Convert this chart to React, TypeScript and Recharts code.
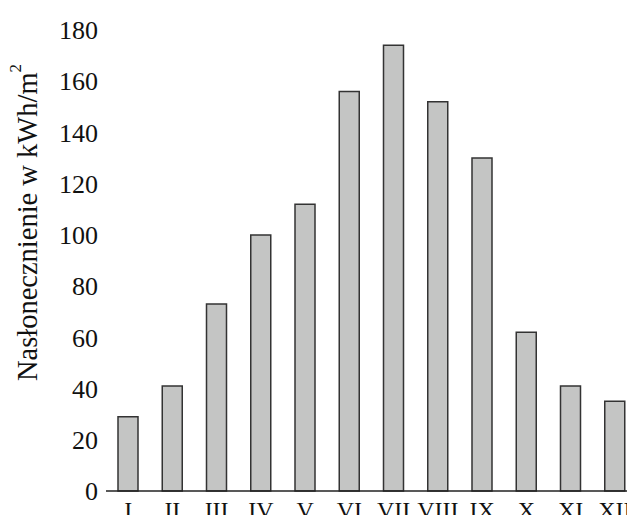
import React from "react";
import { BarChart, Bar, XAxis, YAxis } from "recharts";

const months = ["I", "II", "III", "IV", "V", "VI", "VII", "VIII", "IX", "X", "XI", "XII"];
const insolation = [29, 41, 73, 100, 112, 156, 174, 152, 130, 62, 41, 35];
const yTicks = [0, 20, 40, 60, 80, 100, 120, 140, 160, 180];

const data = months.map((m, i) => ({ month: m, value: insolation[i] }));

const FONT = '"Liberation Serif", "Times New Roman", serif';

function MonthTick({ x, y, payload }: any) {
  return (
    <text x={x} y={y} dy={25} textAnchor="middle" fontFamily={FONT} fontSize={24} fill="#111">
      {payload.value}
    </text>
  );
}

function YLabel({ viewBox }: any) {
  const cx = viewBox.x + 27;
  const cy = viewBox.y + viewBox.height / 2 - 38;
  return (
    <text
      x={cx}
      y={cy}
      transform={`rotate(-90, ${cx}, ${cy})`}
      textAnchor="middle"
      dominantBaseline="central"
      fontFamily={FONT}
      fontSize={28.5}
      fill="#111"
    >
      Nasłonecznienie w kWh/m
      <tspan dy={-12} fontSize={17}>2</tspan>
    </text>
  );
}

export default function App() {
  return (
    <div style={{ margin: -8, width: 635, height: 523, overflow: "hidden", background: "#fff" }}>
      <BarChart width={637} height={523} data={data} margin={{ top: 30, right: 0, bottom: 0, left: 0 }}>
        <XAxis
          dataKey="month"
          tick={<MonthTick />}
          tickLine={false}
          tickSize={0}
          height={32}
          interval={0}
          axisLine={{ stroke: "#222", strokeWidth: 1.5 }}
        />
        <YAxis
          domain={[0, 180]}
          ticks={yTicks}
          width={106}
          tickLine={false}
          tickSize={0}
          tickMargin={8}
          axisLine={false}
          tick={{ fontFamily: FONT, fontSize: 26, fill: "#111" }}
          label={{ content: <YLabel /> }}
        />
        <Bar
          dataKey="value"
          barSize={20}
          fill="#c4c5c4"
          stroke="#333"
          strokeWidth={1.5}
          isAnimationActive={false}
        />
      </BarChart>
    </div>
  );
}
